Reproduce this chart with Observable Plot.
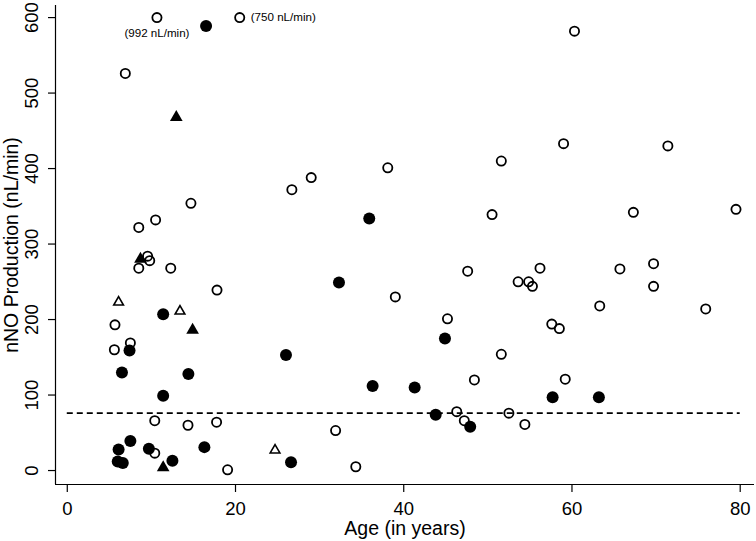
<!DOCTYPE html>
<html><head><meta charset="utf-8">
<script src="https://cdn.jsdelivr.net/npm/d3@7"></script>
<script src="https://cdn.jsdelivr.net/npm/@observablehq/plot@0.6"></script>
<style>html,body{margin:0;padding:0;background:#fff} svg{display:block}</style>
</head><body><div id="chart"></div>
<script>
// Axis settings
const xTicks = [0, 20, 40, 60, 80];
const yTicks = [0, 100, 200, 300, 400, 500, 600];
const xDomain = [-1.4, 81.7];
const yDomain = [-18.5, 616];
const xTitle = "Age (in years)";
const yTitle = "nNO Production (nL/min)";
const threshold = 76;
const thresholdSpan = [0, 80];

// Open circles
const openCircleX = [10.66, 20.5, 6.9, 29.0, 14.7, 10.5, 8.5, 9.55, 9.8, 8.5, 12.3, 17.8, 5.67, 7.5, 5.6, 10.4, 14.35, 17.75, 10.4, 19.06,
  26.7, 38.1, 50.5, 47.6, 39.0, 45.2, 48.4, 51.6, 46.3, 47.2, 31.9, 34.3,
  60.3, 59.0, 71.4, 51.6, 67.3, 79.5, 56.2, 53.6, 54.85, 55.3, 65.7, 69.7, 69.7, 63.3, 75.9, 57.6, 58.5, 59.2, 52.5, 54.4];
const openCircleY = [600, 600, 526, 388, 354, 332, 322, 284, 278, 268, 268, 239, 193, 169, 160, 66, 60, 64, 23, 1,
  372, 401, 339, 264, 230, 201, 120, 154, 78, 66, 53, 5,
  582, 433, 430, 410, 342, 346, 268, 250, 250, 244, 267, 274, 244, 218, 214, 194, 188, 121, 76, 61];

// Filled circles
const filledCircleX = [16.5, 11.4, 7.4, 6.5, 14.4, 11.4, 7.5, 6.1, 9.7, 16.3, 6.0, 6.6, 12.5,
  35.9, 32.3, 44.9, 26.0, 36.3, 41.3, 43.8, 47.9, 26.6, 57.7, 63.2];
const filledCircleY = [589, 207, 159, 130, 128, 99, 39, 28, 29, 31, 12, 10, 13,
  334, 249, 175, 153, 112, 110, 74, 58, 11, 97, 97];

// Open triangles
const openTriangleX = [6.1, 13.4, 24.7];
const openTriangleY = [223, 211, 27];

// Filled triangles
const filledTriangleX = [12.96, 8.7, 14.9, 11.4];
const filledTriangleY = [468, 280, 186, 4];

// Off-scale value notes (plotted at the top of the scale)
const noteX = [10.66, 20.5];
const noteY = [600, 600];
const noteText = ["(992 nL/min)", "(750 nL/min)"];

const pts = (xs, ys) => xs.map((x, i) => ({x, y: ys[i]}));
const openCircles = pts(openCircleX, openCircleY);
const filledCircles = pts(filledCircleX, filledCircleY);
const openTriangles = pts(openTriangleX, openTriangleY);
const filledTriangles = pts(filledTriangleX, filledTriangleY);
const notes = noteX.map((x, i) => ({x, y: noteY[i], label: noteText[i]}));

const font = "'Liberation Sans', Arial, Helvetica, sans-serif";

const chart = Plot.plot({
  width: 756,
  height: 541,
  marginLeft: 55,
  marginRight: 2,
  marginTop: 5,
  marginBottom: 57,
  style: {fontFamily: font, background: "#fff", color: "#000", overflow: "visible"},
  x: {domain: xDomain},
  y: {domain: yDomain},
  marks: [
    Plot.axisX({ticks: xTicks, tickSize: 8, tickPadding: 9, fontSize: 18.5, label: null, stroke: "#000", strokeWidth: 1.2}),
    Plot.axisY({ticks: yTicks, tickSize: 7, tickFormat: () => "", label: null, stroke: "#000", strokeWidth: 1.2}),
    Plot.text(yTicks, {x: xDomain[0], y: d => d, text: d => String(d), rotate: -90, dx: -23,
      fontSize: 18.5, lineAnchor: "middle", textAnchor: "middle", fill: "#000"}),
    Plot.ruleX([xDomain[0]], {stroke: "#000", strokeWidth: 1.2}),
    Plot.ruleY([yDomain[0]], {stroke: "#000", strokeWidth: 1.2}),
    Plot.ruleY([threshold], {x1: thresholdSpan[0], x2: thresholdSpan[1], stroke: "#000", strokeWidth: 1.7, strokeDasharray: "6,4"}),
    Plot.dot(filledCircles, {x: "x", y: "y", r: 6, fill: "#000", stroke: "none"}),
    Plot.dot(filledTriangles, {x: "x", y: "y", symbol: "triangle", r: 4.7, fill: "#000", stroke: "none"}),
    Plot.dot(openCircles, {x: "x", y: "y", r: 4.6, fill: "none", stroke: "#000", strokeWidth: 1.8}),
    Plot.dot(openTriangles, {x: "x", y: "y", symbol: "triangle", r: 3.6, fill: "none", stroke: "#000", strokeWidth: 1.6}),
    Plot.text(notes.slice(0, 1), {x: "x", y: "y", text: "label", dy: 16, fontSize: 11.6, textAnchor: "middle", lineAnchor: "middle", fill: "#000"}),
    Plot.text(notes.slice(1, 2), {x: "x", y: "y", text: "label", dx: 11, fontSize: 11.6, textAnchor: "start", lineAnchor: "middle", fill: "#000"}),
    Plot.text([xTitle], {frameAnchor: "bottom", dy: 44, fontSize: 19.5, lineAnchor: "middle", textAnchor: "middle", fill: "#000"}),
    Plot.text([yTitle], {frameAnchor: "left", dx: -44, rotate: -90, fontSize: 19.5, lineAnchor: "middle", textAnchor: "middle", fill: "#000"})
  ]
});
document.getElementById("chart").appendChild(chart);
</script>
</body></html>
